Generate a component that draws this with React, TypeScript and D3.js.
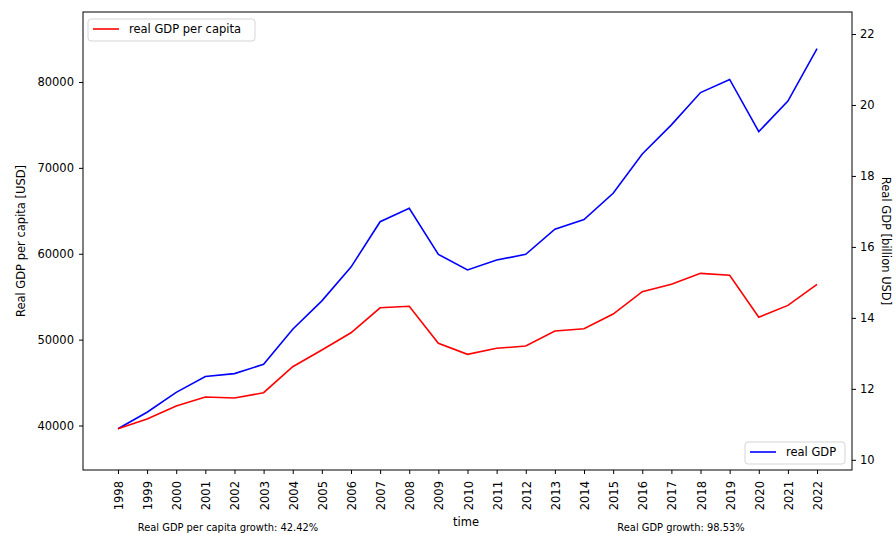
import React, { useEffect, useRef } from 'react';
import * as d3 from 'd3';

// ==== data

const years = [
    1998, 1999, 2000, 2001, 2002, 2003, 2004, 2005, 2006, 2007, 2008, 2009, 2010,
    2011, 2012, 2013, 2014, 2015, 2016, 2017, 2018, 2019, 2020, 2021, 2022,
];

// real GDP per capita [USD]
const gdpPerCapita = [
    39630, 40760, 42270, 43320, 43200, 43820, 46850, 48790, 50800, 53710, 53880, 49570, 48290,
    48990, 49250, 51000, 51260, 52980, 55580, 56440, 57720, 57490, 52600, 53990, 56440,
];

// real GDP [billion USD]
const gdpTotal = [
    10.876, 11.34, 11.90, 12.35, 12.43, 12.69, 13.68, 14.48, 15.43, 16.71, 17.09, 15.79, 15.35,
    15.63, 15.79, 16.50, 16.77, 17.51, 18.62, 19.44, 20.35, 20.72, 19.25, 20.11, 21.59,
];

const leftTicks = [40000, 50000, 60000, 70000, 80000];
const rightTicks = [10, 12, 14, 16, 18, 20, 22];

const perCapitaGrowth = 'Real GDP per capita growth: 42.42%';
const totalGrowth = 'Real GDP growth: 98.53%';

// ====

const W = 896;
const H = 534;
const FONT = 'DejaVu Sans, sans-serif';

function App() {
    const ref = useRef<SVGSVGElement | null>(null);

    useEffect(() => {
        const svg = d3.select(ref.current);
        svg.selectAll('*').remove();

        const left = 83, right = 852, top = 12, bottom = 470;

        const x = d3.scaleLinear().domain([1996.8, 2023.2]).range([left, right]);
        const yL = d3.scaleLinear().domain([34820, 88150]).range([bottom, top]);
        const yR = d3.scaleLinear().domain([9.713, 22.62]).range([bottom, top]);

        // lines
        const lineL = d3.line<number>().x((_, i) => x(years[i])).y((d) => yL(d));
        const lineR = d3.line<number>().x((_, i) => x(years[i])).y((d) => yR(d));

        svg.append('path')
            .attr('d', lineR(gdpTotal))
            .attr('fill', 'none')
            .attr('stroke', '#0000ff')
            .attr('stroke-width', 1.6);

        svg.append('path')
            .attr('d', lineL(gdpPerCapita))
            .attr('fill', 'none')
            .attr('stroke', '#ff0000')
            .attr('stroke-width', 1.6);

        // frame
        svg.append('rect')
            .attr('x', left).attr('y', top)
            .attr('width', right - left).attr('height', bottom - top)
            .attr('fill', 'none').attr('stroke', '#000').attr('stroke-width', 1);

        // left axis
        const gL = svg.append('g')
            .attr('transform', `translate(${left},0)`)
            .call(d3.axisLeft(yL).tickValues(leftTicks).tickSize(4).tickPadding(5).tickFormat(d3.format('d')));
        gL.select('.domain').remove();

        // right axis
        const gR = svg.append('g')
            .attr('transform', `translate(${right},0)`)
            .call(d3.axisRight(yR).tickValues(rightTicks).tickSize(4).tickPadding(4).tickFormat(d3.format('d')));
        gR.select('.domain').remove();

        // bottom axis
        const gB = svg.append('g')
            .attr('transform', `translate(0,${bottom})`)
            .call(d3.axisBottom(x).tickValues(years).tickSize(4).tickFormat(d3.format('d')));
        gB.select('.domain').remove();
        gB.selectAll('text')
            .attr('transform', 'rotate(-90)')
            .attr('text-anchor', 'end')
            .attr('x', -11)
            .attr('y', 4.5)
            .attr('dy', 0);

        svg.selectAll('.tick text')
            .attr('font-family', FONT)
            .attr('font-size', 11.5)
            .attr('fill', '#000');
        svg.selectAll('.tick line').attr('stroke', '#000');

        // axis labels
        svg.append('text')
            .attr('transform', `translate(25,${(top + bottom) / 2}) rotate(-90)`)
            .attr('text-anchor', 'middle')
            .attr('font-family', FONT).attr('font-size', 11.5)
            .text('Real GDP per capita [USD]');

        svg.append('text')
            .attr('transform', `translate(882,${(top + bottom) / 2}) rotate(90)`)
            .attr('text-anchor', 'middle')
            .attr('font-family', FONT).attr('font-size', 11.5)
            .text('Real GDP [billion USD]');

        svg.append('text')
            .attr('x', 466).attr('y', 526)
            .attr('text-anchor', 'middle')
            .attr('font-family', FONT).attr('font-size', 11.5)
            .text('time');

        // growth notes
        svg.append('text')
            .attr('x', 228).attr('y', 531)
            .attr('text-anchor', 'middle')
            .attr('font-family', FONT).attr('font-size', 9.9)
            .text(perCapitaGrowth);

        svg.append('text')
            .attr('x', 681).attr('y', 531)
            .attr('text-anchor', 'middle')
            .attr('font-family', FONT).attr('font-size', 9.9)
            .text(totalGrowth);

        // legends
        const legend = (bx: number, by: number, bw: number, color: string, label: string) => {
            const g = svg.append('g').attr('transform', `translate(${bx},${by})`);
            g.append('rect')
                .attr('width', bw).attr('height', 22)
                .attr('rx', 3)
                .attr('fill', '#fff').attr('fill-opacity', 0.8)
                .attr('stroke', '#d5d5d5');
            g.append('line')
                .attr('x1', 5).attr('x2', 31)
                .attr('y1', 10).attr('y2', 10)
                .attr('stroke', color).attr('stroke-width', 1.6);
            g.append('text')
                .attr('x', 41).attr('y', 14)
                .attr('font-family', FONT).attr('font-size', 11.5)
                .text(label);
        };

        legend(88, 19, 167, '#ff0000', 'real GDP per capita');
        legend(745, 442, 100, '#0000ff', 'real GDP');
    }, []);

    return (
        <svg
            ref={ref}
            width={W}
            height={H}
            style={{ position: 'absolute', left: 0, top: 0, background: '#fff' }}>
        </svg>
    );
}

export default App;
